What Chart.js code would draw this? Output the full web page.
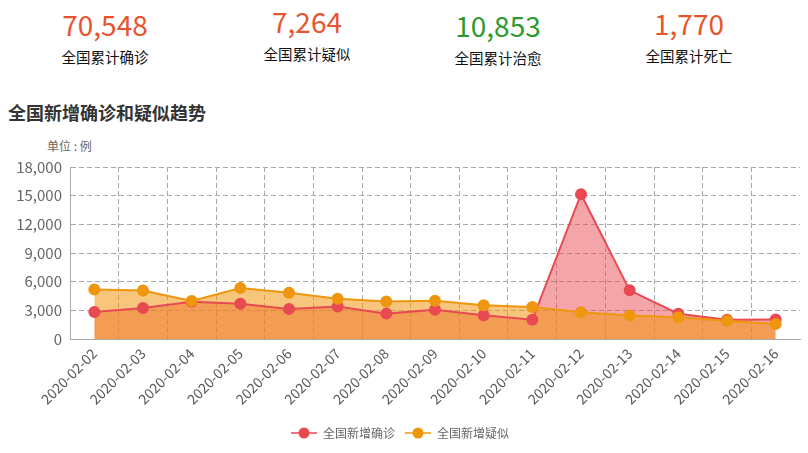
<!DOCTYPE html>
<html>
<head>
<meta charset="utf-8">
<script src="https://cdn.jsdelivr.net/npm/chart.js@4/dist/chart.umd.min.js"></script>
<style>
    html, body { margin: 0; padding: 0; background: #fff; }
    body { width: 808px; height: 453px; position: relative; overflow: hidden;
           font-family: 'Microsoft YaHei', 'Noto Sans CJK SC', sans-serif; }
    .stat { position: absolute; width: 160px; text-align: center; }
    .stat .num { font-size: 28px; line-height: 28px; }
    .stat .lbl { font-size: 14.5px; line-height: 16px; color: #111; margin-top: 11px; }
    #title { position: absolute; left: 8px; top: 99px; font-size: 18px; font-weight: bold; color: #333; }
    #unit { position: absolute; left: 47px; top: 137px; font-size: 12px; color: #666; }
    #wrap { position: absolute; left: 0; top: 150px; width: 808px; height: 303px; }
</style>
</head>
<body>
<div id="stats"></div>
<div id="title">全国新增确诊和疑似趋势</div>
<div id="unit">单位 : 例</div>
<div id="wrap"><canvas id="trend"></canvas></div>
<script>
// summary numbers
const statLabels = ['全国累计确诊', '全国累计疑似', '全国累计治愈', '全国累计死亡'];
const statValues = ['70,548', '7,264', '10,853', '1,770'];
const statColors = ['#e8542c', '#e8542c', '#2e9a2e', '#e8542c'];
const statCenters = [105, 307, 498, 689];
const statTops = [10, 7, 11, 9];

// trend data
const dates = ['2020-02-02', '2020-02-03', '2020-02-04', '2020-02-05', '2020-02-06',
    '2020-02-07', '2020-02-08', '2020-02-09', '2020-02-10', '2020-02-11',
    '2020-02-12', '2020-02-13', '2020-02-14', '2020-02-15', '2020-02-16'];
const confirmedNew = [2829, 3235, 3887, 3694, 3143, 3399, 2656, 3062, 2478, 2015, 15152, 5090, 2641, 2009, 2048];
const suspectedNew = [5173, 5072, 3971, 5328, 4833, 4214, 3916, 4008, 3536, 3342, 2807, 2450, 2277, 1918, 1563];
const yTicks = [0, 3000, 6000, 9000, 12000, 15000, 18000];

const statsBox = document.getElementById('stats');
statLabels.forEach(function(lbl, i) {
    const d = document.createElement('div');
    d.className = 'stat';
    d.style.left = (statCenters[i] - 80) + 'px';
    d.style.top = statTops[i] + 'px';
    d.innerHTML = '<div class="num" style="color:' + statColors[i] + '">' + statValues[i] + '</div>' +
        '<div class="lbl">' + lbl + '</div>';
    statsBox.appendChild(d);
});

const RED = '#e84a52';
const ORANGE = '#ef960f';

function legendIcon(color) {
    const c = document.createElement('canvas');
    c.width = 26;
    c.height = 12;
    const g = c.getContext('2d');
    g.strokeStyle = color;
    g.lineWidth = 1.5;
    g.beginPath();
    g.moveTo(0, 6);
    g.lineTo(26, 6);
    g.stroke();
    g.fillStyle = color;
    g.beginPath();
    g.arc(13, 6, 5.5, 0, Math.PI * 2);
    g.fill();
    return c;
}
const icons = [legendIcon(RED), legendIcon(ORANGE)];

const gridColor = '#a8a8a8';
const fontFamily = "'Microsoft YaHei', 'Noto Sans CJK SC', sans-serif";

new Chart(document.getElementById('trend'), {
    type: 'line',
    data: {
        labels: dates,
        datasets: [{
            label: '全国新增确诊',
            data: confirmedNew,
            borderColor: RED,
            backgroundColor: 'rgba(233, 75, 84, 0.5)',
            pointBackgroundColor: RED,
            pointBorderColor: RED,
            borderWidth: 2,
            pointRadius: 5,
            fill: 'origin',
            tension: 0,
            order: 1
        }, {
            label: '全国新增疑似',
            data: suspectedNew,
            borderColor: ORANGE,
            backgroundColor: 'rgba(240, 150, 15, 0.55)',
            pointBackgroundColor: ORANGE,
            pointBorderColor: ORANGE,
            borderWidth: 2,
            pointRadius: 5,
            fill: 'origin',
            tension: 0,
            order: 0
        }]
    },
    options: {
        responsive: true,
        maintainAspectRatio: false,
        animation: false,
        layout: {
            padding: { top: 17, right: 8, bottom: 4, left: 0 }
        },
        plugins: {
            filler: { drawTime: 'beforeDatasetsDraw' },
            tooltip: { enabled: false },
            legend: {
                position: 'bottom',
                labels: {
                    usePointStyle: true,
                    pointStyleWidth: 26,
                    padding: 10,
                    color: '#666',
                    font: { family: fontFamily, size: 12 },
                    sort: function(a, b) { return a.datasetIndex - b.datasetIndex; },
                    generateLabels: function(chart) {
                        const items = Chart.defaults.plugins.legend.labels.generateLabels(chart);
                        items.forEach(function(it) { it.pointStyle = icons[it.datasetIndex]; });
                        return items;
                    }
                }
            }
        },
        scales: {
            x: {
                offset: true,
                grid: {
                    offset: true,
                    drawTicks: false,
                    color: function(c) { return c.index === undefined ? 'rgba(0,0,0,0)' : gridColor; }
                },
                border: { display: true, color: '#aaa', dash: [5, 3] },
                ticks: {
                    color: '#5a5a5a',
                    font: { family: fontFamily, size: 14 },
                    maxRotation: 45,
                    minRotation: 45,
                    autoSkip: false,
                    padding: 6
                },
                afterFit: function(scale) { scale.height = 78; }
            },
            y: {
                min: 0,
                max: 18000,
                grid: { drawTicks: false, color: gridColor },
                border: { display: true, color: '#aaa', dash: [5, 3] },
                afterBuildTicks: function(scale) {
                    scale.ticks = yTicks.map(function(v) { return { value: v }; });
                },
                ticks: {
                    color: '#666',
                    font: { family: fontFamily, size: 15 },
                    padding: 8,
                    callback: function(v) { return v.toLocaleString('en-US'); }
                },
                afterFit: function(scale) { scale.width = 70; }
            }
        }
    }
});
</script>
</body>
</html>
